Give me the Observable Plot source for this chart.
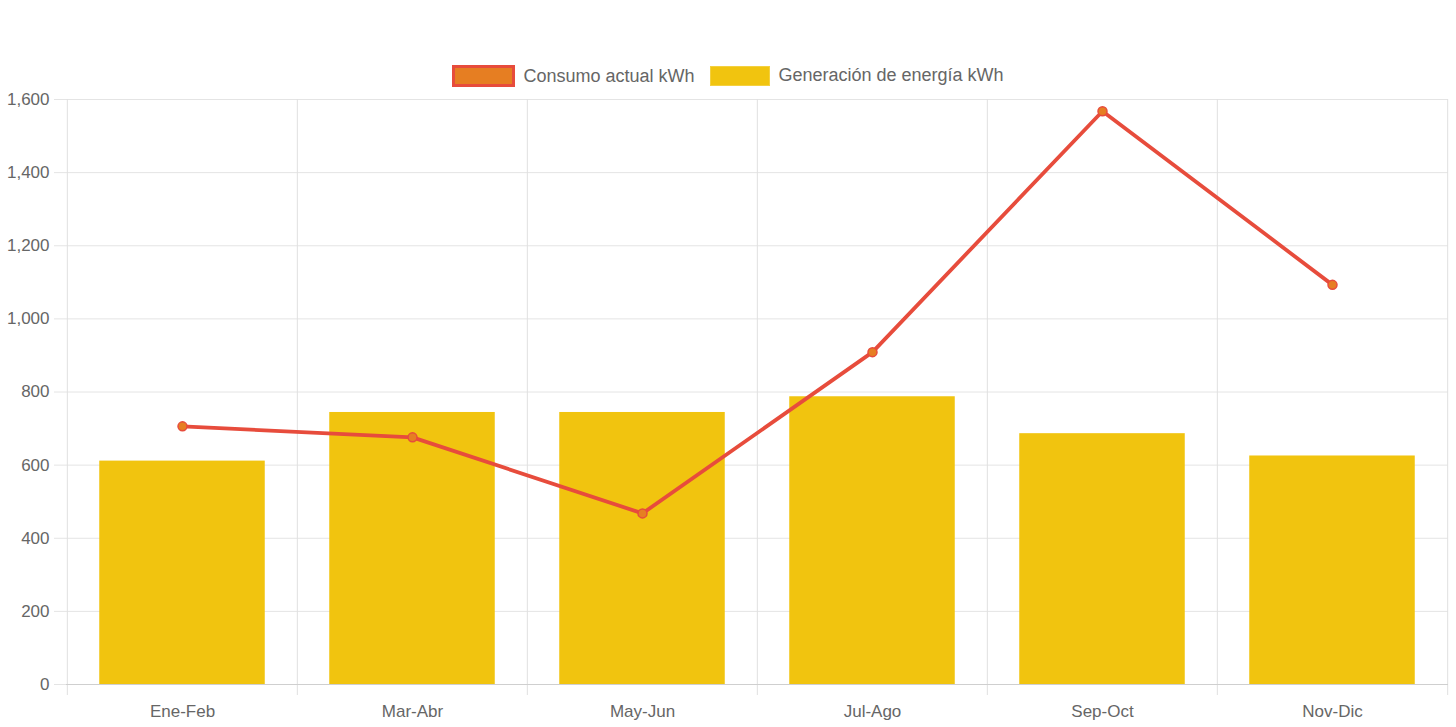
<!DOCTYPE html>
<html>
<head>
<meta charset="utf-8">
<script src="https://cdn.jsdelivr.net/npm/d3@7"></script>
<script src="https://cdn.jsdelivr.net/npm/@observablehq/plot@0.6"></script>
<style>
  body { margin: 0; background: #fff; font-family: "Liberation Sans", Arial, sans-serif; }
  #legend { height: 25px; padding-top: 65px; display: flex; justify-content: center; align-items: flex-start; color: #666; font-size: 18px; }
  .item { display: flex; align-items: center; margin: 0 8px; }
  .box { box-sizing: border-box; width: 60px; height: 20px; margin-right: 8px; }
  #chart svg { display: block; }
</style>
</head>
<body>
<div id="legend"></div>
<div id="chart"></div>
<script>
const categories = ["Ene-Feb", "Mar-Abr", "May-Jun", "Jul-Ago", "Sep-Oct", "Nov-Dic"];
const consumo = [706, 676, 468, 909, 1568, 1093];
const generacion = [611, 744, 744, 787, 686, 625];
const yTicks = [0, 200, 400, 600, 800, 1000, 1200, 1400, 1600];
const seriesNames = ["Consumo actual kWh", "Generación de energía kWh"];

const data = categories.map((c, i) => ({cat: c, consumo: consumo[i], gen: generacion[i]}));

const legend = document.getElementById("legend");
legend.innerHTML =
  `<div class="item"><div class="box" style="background:#e67e22;border:3px solid #e74c3c;width:63px;height:22px"></div><span>${seriesNames[0]}</span></div>` +
  `<div class="item"><div class="box" style="background:#f1c40f;border:1px solid #f4d03f"></div><span>${seriesNames[1]}</span></div>`;

const W = 1456, H = 637, ml = 66, mr = 8;
const bw = (W - ml - mr) / categories.length;
const inset = bw * 0.14;

const chart = Plot.plot({
  width: W,
  height: H,
  marginTop: 9,
  marginBottom: 43,
  marginLeft: ml,
  marginRight: mr,
  x: {type: "band", domain: categories, padding: 0},
  y: {domain: [0, 1600]},
  style: {fontFamily: "'Liberation Sans', Arial, sans-serif", fontSize: "17px", color: "#666", background: "#fff"},
  marks: [
    Plot.ruleY(yTicks, {stroke: "#e4e4e4", insetLeft: -12}),
    Plot.ruleX(categories, {x: d => d, dx: -bw / 2, stroke: "#e0e0e0", insetBottom: -11}),
    Plot.ruleX([categories[categories.length - 1]], {x: d => d, dx: bw / 2, stroke: "#e0e0e0", insetBottom: -11}),
    Plot.barY(data, {x: "cat", y: "gen", fill: "#f1c40f", insetLeft: inset, insetRight: inset}),
    Plot.ruleY([0], {stroke: "#cfcfcf", strokeWidth: 1.2}),
    Plot.lineY(data, {x: "cat", y: "consumo", stroke: "#e74c3c", strokeWidth: 3.8}),
    Plot.dot(data, {x: "cat", y: "consumo", r: 4.5, fill: "#e67e22", stroke: "#e74c3c", strokeWidth: 1.5}),
    Plot.axisY({ticks: yTicks, tickSize: 0, tickPadding: 17, tickFormat: d3.format(","), label: null, fill: "#666"}),
    Plot.axisX({tickSize: 0, tickPadding: 20, label: null, fill: "#666"})
  ]
});
document.getElementById("chart").appendChild(chart);
</script>
</body>
</html>
